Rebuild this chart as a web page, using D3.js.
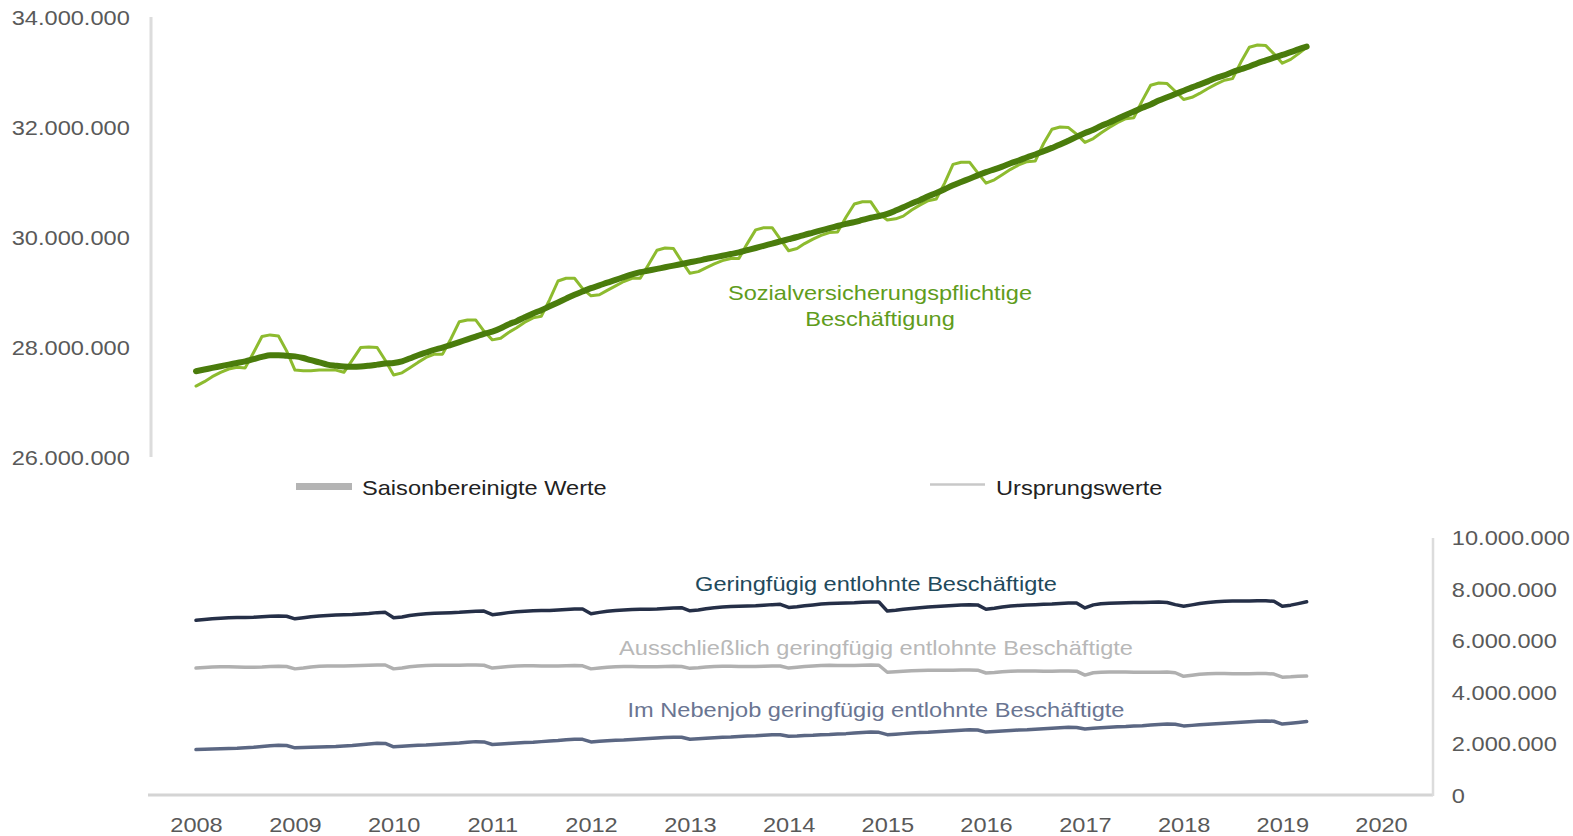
<!DOCTYPE html>
<html>
<head>
<meta charset="utf-8">
<script src="https://cdn.jsdelivr.net/npm/d3@7"></script>
<style>
  html, body { margin: 0; padding: 0; background: #ffffff; }
  svg text { font-family: "Liberation Sans", Arial, sans-serif; }
</style>
</head>
<body>
<svg id="chart" width="1573" height="836"></svg>
<script>
// ---------- DATA (values in thousands) ----------
const startMonth = new Date(2008, 0, 1);
const endMonthExclusive = new Date(2019, 4, 1);
const yearTicks = [2008, 2009, 2010, 2011, 2012, 2013, 2014, 2015, 2016, 2017, 2018, 2019, 2020];
const topTicks = [26000000, 28000000, 30000000, 32000000, 34000000];
const bottomTicks = [0, 2000000, 4000000, 6000000, 8000000, 10000000];

// Sozialversicherungspflichtige Beschäftigung – saisonbereinigt
const svbSeasonAdj = [
  27560, 27590, 27620, 27650, 27680, 27710, 27740, 27780, 27820, 27850, 27850, 27840,
  27830, 27800, 27760, 27720, 27680, 27660, 27645, 27640, 27645, 27660, 27680, 27700,
  27710, 27740, 27790, 27850, 27900, 27950, 27990, 28040, 28090, 28140, 28190, 28240,
  28280, 28340, 28410, 28470, 28540, 28610, 28670, 28740, 28810, 28880, 28950, 29010,
  29070, 29120, 29170, 29220, 29270, 29320, 29360, 29390, 29420, 29450, 29480, 29510,
  29540, 29570, 29600, 29630, 29660, 29690, 29720, 29760, 29800, 29840, 29880, 29920,
  29960, 30000, 30040, 30080, 30120, 30160, 30200, 30240, 30270, 30310, 30350, 30380,
  30420, 30480, 30540, 30610, 30670, 30740, 30800, 30870, 30940, 31000, 31060, 31120,
  31180, 31230, 31280, 31340, 31390, 31450, 31500, 31560, 31620, 31680, 31750, 31820,
  31890, 31950, 32020, 32080, 32150, 32220, 32280, 32350, 32410, 32480, 32540, 32600,
  32660, 32720, 32770, 32830, 32890, 32940, 33000, 33050, 33100, 33160, 33210, 33260,
  33310, 33360, 33410, 33460
];
// Sozialversicherungspflichtige Beschäftigung – Ursprungswerte
const svbOriginal = [
  27290, 27370, 27460, 27540, 27600, 27630, 27620, 27900, 28190, 28220, 28200, 27930,
  27580, 27570, 27570, 27580, 27580, 27580, 27540, 27760, 27990, 28000, 27990, 27760,
  27490, 27530, 27620, 27720, 27810, 27870, 27870, 28150, 28460, 28490, 28490, 28290,
  28130, 28160, 28260, 28350, 28450, 28530, 28560, 28860, 29200, 29250, 29250, 29060,
  28930, 28950, 29030, 29110, 29190, 29250, 29250, 29500, 29760, 29800, 29790, 29560,
  29340, 29370, 29440, 29510, 29570, 29610, 29610, 29880, 30130, 30170, 30170, 29960,
  29750, 29790, 29880, 29960, 30030, 30080, 30090, 30360, 30600, 30640, 30640, 30420,
  30310, 30330, 30380, 30490, 30580, 30660, 30690, 30980, 31320, 31360, 31360, 31170,
  30980, 31040, 31130, 31230, 31310, 31370, 31380, 31700, 31960, 32000, 31990, 31870,
  31720, 31790, 31890, 31990, 32080, 32150, 32170, 32480, 32760, 32800, 32790, 32650,
  32500, 32540, 32610, 32700, 32780, 32850, 32880, 33180, 33450, 33490, 33480, 33330,
  33160, 33230, 33330, 33450
];
// Geringfügig entlohnte Beschäftigte
const gbTotal = [
  6730, 6760, 6790, 6810, 6830, 6840, 6840, 6850, 6870, 6890, 6900, 6890,
  6790, 6830, 6870, 6900, 6920, 6940, 6950, 6960, 6980, 7000, 7030, 7040,
  6830, 6860, 6920, 6960, 6990, 7010, 7020, 7030, 7040, 7060, 7080, 7090,
  6950, 6990, 7030, 7060, 7080, 7100, 7110, 7110, 7130, 7150, 7170, 7170,
  6990, 7040, 7080, 7110, 7130, 7150, 7160, 7160, 7170, 7190, 7210, 7220,
  7100, 7130, 7180, 7220, 7250, 7270, 7280, 7290, 7300, 7320, 7340, 7350,
  7230, 7260, 7300, 7330, 7360, 7380, 7390, 7400, 7410, 7430, 7440, 7440,
  7090, 7120, 7160, 7190, 7220, 7250, 7270, 7290, 7310, 7330, 7340, 7330,
  7160, 7200, 7250, 7290, 7310, 7330, 7340, 7350, 7360, 7380, 7400, 7400,
  7210, 7330, 7370, 7390, 7400, 7410, 7420, 7420, 7430, 7440, 7420, 7340,
  7280, 7330, 7380, 7420, 7450, 7470, 7480, 7480, 7480, 7490, 7490, 7470,
  7280, 7320, 7380, 7450
];
// Ausschließlich geringfügig entlohnte Beschäftigte
const gbExclusive = [
  4880, 4900, 4920, 4930, 4930, 4920, 4910, 4910, 4920, 4940, 4950, 4940,
  4850, 4880, 4920, 4950, 4960, 4960, 4960, 4970, 4980, 4990, 5000, 5000,
  4850, 4880, 4930, 4960, 4980, 4990, 4990, 4990, 4990, 5000, 5000, 4990,
  4880, 4910, 4940, 4960, 4970, 4970, 4960, 4960, 4960, 4970, 4980, 4970,
  4850, 4880, 4910, 4930, 4940, 4940, 4930, 4930, 4930, 4940, 4950, 4940,
  4870, 4890, 4920, 4940, 4950, 4950, 4940, 4940, 4940, 4950, 4960, 4960,
  4880, 4910, 4940, 4960, 4980, 4990, 4980, 4980, 4980, 4990, 5000, 4990,
  4720, 4740, 4760, 4780, 4790, 4800, 4800, 4800, 4800, 4810, 4810, 4800,
  4690, 4710, 4740, 4760, 4770, 4770, 4770, 4760, 4760, 4770, 4770, 4760,
  4610, 4700, 4720, 4730, 4730, 4730, 4720, 4720, 4720, 4720, 4730, 4700,
  4560, 4600, 4640, 4660, 4670, 4670, 4660, 4660, 4660, 4670, 4670, 4650,
  4530, 4540, 4560, 4570
];
// Im Nebenjob geringfügig entlohnte Beschäftigte
const gbSideJob = [
  1720, 1730, 1740, 1750, 1760, 1770, 1790, 1810, 1840, 1870, 1890, 1880,
  1790, 1800, 1810, 1820, 1830, 1840, 1860, 1880, 1910, 1940, 1970, 1960,
  1830, 1850, 1870, 1890, 1900, 1920, 1940, 1960, 1980, 2010, 2030, 2020,
  1920, 1940, 1960, 1980, 2000, 2010, 2030, 2050, 2070, 2100, 2120, 2120,
  2020, 2040, 2060, 2080, 2090, 2110, 2130, 2150, 2170, 2190, 2200, 2200,
  2120, 2140, 2160, 2180, 2200, 2210, 2230, 2250, 2260, 2280, 2300, 2300,
  2240, 2250, 2270, 2280, 2300, 2310, 2330, 2340, 2360, 2380, 2400, 2390,
  2300, 2320, 2340, 2360, 2380, 2390, 2410, 2430, 2450, 2470, 2490, 2480,
  2400, 2420, 2440, 2460, 2480, 2490, 2510, 2530, 2550, 2570, 2590, 2580,
  2520, 2550, 2570, 2590, 2610, 2620, 2640, 2650, 2670, 2690, 2710, 2700,
  2640, 2660, 2680, 2700, 2720, 2740, 2760, 2780, 2800, 2820, 2830, 2820,
  2710, 2740, 2770, 2810
];

const svbLabel = ["Sozialversicherungspflichtige", "Beschäftigung"];
const legendLabels = ["Saisonbereinigte Werte", "Ursprungswerte"];
const gbLabels = [
  "Geringfügig entlohnte Beschäftigte",
  "Ausschließlich geringfügig entlohnte Beschäftigte",
  "Im Nebenjob geringfügig entlohnte Beschäftigte"
];

// ---------- SETUP ----------
const months = d3.timeMonth.range(startMonth, endMonthExclusive);
const svg = d3.select("#chart");
const SX = 1.18; // horizontal text stretch seen in the reference

const de = d3.formatLocale({ decimal: ",", thousands: ".", grouping: [3], currency: ["", " €"] });
const fmt = de.format(",d");

const x = d3.scaleTime()
  .domain([new Date(2008, 0, 1), new Date(2020, 0, 1)])
  .range([196, 1381]);
const yTop = d3.scaleLinear().domain([26000000, 34000000]).range([457, 17]);
const yBot = d3.scaleLinear().domain([0, 10000000]).range([794, 536]);

const axisColor = "#dcdcdc";
const tickColor = "#595959";

// axis lines
svg.append("line").attr("x1", 151).attr("x2", 151).attr("y1", 17).attr("y2", 457)
  .attr("stroke", axisColor).attr("stroke-width", 3);
svg.append("line").attr("x1", 148).attr("x2", 1433).attr("y1", 795).attr("y2", 795)
  .attr("stroke", "#d4d4d4").attr("stroke-width", 3);
svg.append("line").attr("x1", 1433).attr("x2", 1433).attr("y1", 538).attr("y2", 796)
  .attr("stroke", axisColor).attr("stroke-width", 2.5);

function styleAxis(g) {
  g.select(".domain").remove();
  g.selectAll(".tick line").remove();
  g.selectAll(".tick text")
    .attr("fill", tickColor)
    .style("font-size", "20px")
    .style("font-family", "'Liberation Sans', Arial, sans-serif");
}

// left axis (top panel)
svg.append("g").attr("transform", "translate(151,1)")
  .call(d3.axisLeft(yTop).tickValues(topTicks).tickFormat(fmt).tickSize(0).tickPadding(18))
  .call(styleAxis)
  .call(g => g.selectAll(".tick text").attr("transform", `scale(${SX},1)`));

// right axis (bottom panel)
svg.append("g").attr("transform", "translate(1433,2)")
  .call(d3.axisRight(yBot).tickValues(bottomTicks).tickFormat(d => fmt(d)).tickSize(0).tickPadding(16))
  .call(styleAxis)
  .call(g => g.selectAll(".tick text").attr("transform", `scale(${SX},1)`));

// bottom axis (years)
svg.append("g").attr("transform", "translate(0,795)")
  .call(d3.axisBottom(x).tickValues(yearTicks.map(y => new Date(y, 0, 1)))
    .tickFormat(d3.timeFormat("%Y")).tickSize(0).tickPadding(23))
  .call(styleAxis)
  .call(g => g.selectAll(".tick text").attr("transform", `scale(${SX},1)`));

// ---------- LINES ----------
const rows = months.map((m, i) => ({
  date: m,
  sa: svbSeasonAdj[i] * 1000,
  raw: svbOriginal[i] * 1000,
  gb: gbTotal[i] * 1000,
  ex: gbExclusive[i] * 1000,
  nj: gbSideJob[i] * 1000
}));

function drawLine(key, yScale, color, width, curve) {
  svg.append("path")
    .datum(rows)
    .attr("fill", "none")
    .attr("stroke", color)
    .attr("stroke-width", width)
    .attr("stroke-linejoin", "round")
    .attr("stroke-linecap", "round")
    .attr("d", d3.line().x(d => x(d.date)).y(d => yScale(d[key])).curve(curve));
}

drawLine("raw", yTop, "#8dbb2f", 3, d3.curveLinear);
drawLine("sa", yTop, "#4a7c0c", 6, d3.curveMonotoneX);

drawLine("ex", yBot, "#b0b0b0", 3.5, d3.curveLinear);
drawLine("nj", yBot, "#5b6783", 3.5, d3.curveLinear);
drawLine("gb", yBot, "#252f47", 3.5, d3.curveLinear);

// ---------- LABELS ----------
function stretchedText(xc, yb, txt, color, anchor) {
  svg.append("g").attr("transform", `translate(${xc},${yb}) scale(${SX},1)`)
    .append("text")
    .attr("text-anchor", anchor || "middle")
    .attr("fill", color)
    .style("font-size", "20px")
    .text(txt);
}

stretchedText(880, 300, svbLabel[0], "#5f9c1c");
stretchedText(880, 326, svbLabel[1], "#5f9c1c");

stretchedText(876, 591, gbLabels[0], "#1f4a5c");
stretchedText(876, 655, gbLabels[1], "#b8b8b8");
stretchedText(876, 717, gbLabels[2], "#6a7592");

// legend
svg.append("line").attr("x1", 296).attr("x2", 352).attr("y1", 486.5).attr("y2", 486.5)
  .attr("stroke", "#b4b4b4").attr("stroke-width", 7);
stretchedText(362, 495, legendLabels[0], "#222222", "start");
svg.append("line").attr("x1", 930).attr("x2", 985).attr("y1", 484.5).attr("y2", 484.5)
  .attr("stroke", "#c8c8c8").attr("stroke-width", 2.5);
stretchedText(996, 495, legendLabels[1], "#222222", "start");
</script>
</body>
</html>
